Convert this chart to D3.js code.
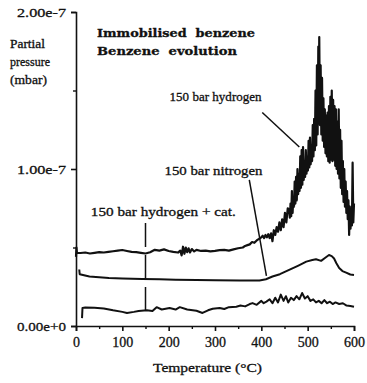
<!DOCTYPE html>
<html>
<head>
<meta charset="utf-8">
<script src="https://cdn.jsdelivr.net/npm/d3@7"></script>
<style>
  body { margin: 0; background: #fff; }
  svg { display: block; }
  text { font-family: "Liberation Serif", "Times New Roman", serif; fill: #111; stroke: #111; stroke-width: 0.3px; }
</style>
</head>
<body>
<div id="chart"></div>
<script>
// values in units of 1e-7 mbar, temperature in °C
const hydrogen = [
  [0,0.44],[1,0.50],[2,0.465],[10,0.465],[20,0.468],[30,0.462],[40,0.466],[50,0.47],[60,0.468],
  [70,0.472],[80,0.476],[90,0.48],[100,0.484],[110,0.478],[120,0.472],[130,0.47],[140,0.466],
  [150,0.462],[160,0.47],[170,0.485],[180,0.48],[190,0.488],[200,0.478],[210,0.472],[220,0.468],
  [225,0.48],[228,0.45],[231,0.505],[234,0.46],[237,0.50],[240,0.47],[243,0.495],[246,0.468],
  [250,0.49],[255,0.475],[260,0.485],[270,0.478],[280,0.48],[290,0.475],[300,0.478],[310,0.483],
  [320,0.485],[330,0.48],[340,0.488],[350,0.495],[360,0.50],[365,0.51],[370,0.515],[375,0.52],
  [380,0.535],[385,0.53],[390,0.545],[395,0.555],[400,0.565],[403,0.575],[406,0.56],[409,0.58],
  [412,0.565],[415,0.585],[418,0.56],[421,0.59],[424,0.54],[427,0.61],[430,0.58],[433,0.63],
  [436,0.60],[439,0.66],[442,0.61],[445,0.68],[448,0.63],[451,0.72],[454,0.66],[457,0.75],
  [460,0.74],[461.5,0.69],[463,0.78],[464.5,0.70],[466,0.86],[467.5,0.72],[469,0.82],[470.5,0.76],
  [472,0.92],[473.5,0.78],[475,0.95],[476.5,0.80],[478,1.00],[479.5,0.84],[481,0.97],[482.5,0.86],
  [484,1.08],[485.5,0.88],[487,1.12],[488.5,0.90],[490,1.14],[491.5,0.93],[493,1.05],[494.5,0.95],
  [496,1.12],[497.5,0.97],[499,1.08],[500.5,0.99],[502,1.18],[503.5,1.01],[505,1.20],[506.5,1.03],
  [508,1.15],[509.5,1.05],[511,1.28],[512.5,1.08],[514,1.32],[515.5,1.12],[517,1.50],[518.5,1.15],
  [520,1.66],[521.5,1.22],[523,1.78],[524,1.30],[525,1.84],[526.5,1.28],[528,1.66],[529.5,1.22],
  [531,1.58],[532.5,1.18],[534,1.45],[535.5,1.14],[537,1.38],[538.5,1.10],[540,1.34],[541.5,1.08],
  [543,1.36],[544.5,1.05],[546,1.40],[547.5,1.04],[549,1.46],[550.5,1.06],[552,1.50],[553.5,1.05],
  [555,1.44],[556.5,1.06],[558,1.40],[559.5,1.02],[561,1.38],[562.5,1.00],[564,1.30],[565.5,0.97],
  [567,1.38],[568.5,0.94],[570,1.25],[571.5,0.88],[573,1.18],[574.5,0.84],[576,1.05],[577.5,0.79],
  [579,1.00],[580.5,0.76],[582,0.92],[583.5,0.72],[585,0.86],[586.5,0.68],[588,0.80],[589.5,0.58],
  [591,0.76],[592.5,0.62],[594,0.72],[595.5,0.64],[597,1.04],[598.5,0.66],[600,0.78]
];

const nitrogen = [
  [7,0.36],[8,0.33],[15,0.325],[29,0.315],[50,0.31],[71,0.305],[100,0.302],[143,0.30],
  [180,0.297],[215,0.294],[260,0.293],[300,0.292],[353,0.29],[396,0.29],[410,0.298],
  [424,0.315],[440,0.33],[460,0.357],[480,0.385],[497,0.41],[510,0.42],[518,0.425],
  [529,0.415],[538,0.435],[546,0.452],[552,0.445],[557,0.43],[562,0.40],[568,0.37],
  [575,0.35],[583,0.34],[592,0.328],[600,0.325]
];

const hydrogenCat = [
  [13,0.05],[14,0.115],[20,0.118],[40,0.116],[60,0.112],[80,0.10],[100,0.09],[110,0.083],
  [125,0.09],[135,0.096],[153,0.10],[165,0.095],[174,0.12],[185,0.105],[202,0.115],[215,0.105],
  [224,0.12],[240,0.105],[260,0.097],[273,0.083],[285,0.10],[295,0.11],[310,0.115],[320,0.108],
  [330,0.12],[346,0.123],[355,0.13],[365,0.125],[375,0.14],[381,0.146],[390,0.135],[400,0.16],
  [405,0.145],[411,0.155],[418,0.17],[424,0.145],[430,0.18],[436,0.15],[442,0.20],[448,0.16],
  [453,0.19],[458,0.15],[464,0.18],[470,0.165],[476,0.19],[482,0.17],[488,0.21],[494,0.175],
  [500,0.19],[506,0.16],[512,0.17],[518,0.15],[524,0.16],[530,0.145],[536,0.165],[542,0.145],
  [548,0.155],[554,0.14],[560,0.15],[568,0.14],[576,0.145],[584,0.13],[592,0.128],[600,0.123]
];

const xTicks = [0, 100, 200, 300, 400, 500, 600];
const xMinor = [50, 150, 250, 350, 450, 550];
const yTicks = [0, 1e-7, 2e-7];
const yTickLabels = ['0.00e+0', '1.00e-7', '2.00e-7'];
const yMinor = [0.5e-7, 1.5e-7];

// annotations: label text, anchor point and pointer line ends (°C, 1e-7 mbar)
const labels = [
  { text: '150 bar hydrogen', t: 202, v: 1.43, len: 92, line: [[402, 1.36], [482, 1.14]] },
  { text: '150 bar nitrogen', t: 191, v: 0.96, len: 98, line: [[374, 0.93], [411, 0.32]] },
  { text: '150 bar hydrogen + cat.', t: 32, v: 0.70, len: 145, line: [[150, 0.656], [150, 0.10]] }
];

const W = 367, H = 383;
const svg = d3.select('#chart').append('svg').attr('width', W).attr('height', H);

const x = d3.scaleLinear().domain([0, 600]).range([76, 354]);
const y = d3.scaleLinear().domain([0, 2e-7]).range([326, 12]);

const line = d3.line()
  .x(d => x(d[0]))
  .y(d => y(d[1] * 1e-7));

// series
[[hydrogen, 2.2], [nitrogen, 2], [hydrogenCat, 2]].forEach(([s, w]) => {
  svg.append('path')
    .datum(s)
    .attr('d', line)
    .attr('fill', 'none')
    .attr('stroke', '#111')
    .attr('stroke-width', w)
    .attr('stroke-linejoin', 'round');
});

// X axis
const xAxis = svg.append('g')
  .attr('transform', `translate(0,${y(0)})`)
  .call(d3.axisBottom(x).tickValues(xTicks).tickSize(5).tickPadding(6).tickFormat(d3.format('d')));
xAxis.select('.domain').attr('stroke', '#111').attr('stroke-width', 1.6);
xAxis.selectAll('line').attr('stroke', '#111').attr('stroke-width', 1.6);
xAxis.selectAll('text')
  .style('font-family', '"Liberation Serif", serif')
  .style('font-size', '14px')
  .style('fill', '#111');

svg.append('g')
  .attr('transform', `translate(0,${y(0)})`)
  .call(d3.axisBottom(x).tickValues(xMinor).tickSize(3).tickFormat(() => ''))
  .call(g => g.select('.domain').remove())
  .selectAll('line').attr('stroke', '#111').attr('stroke-width', 1.4);

// Y axis
const yAxis = svg.append('g')
  .attr('transform', `translate(${x(0)},0)`)
  .call(d3.axisLeft(y).tickValues(yTicks).tickSize(5).tickPadding(5)
    .tickFormat((d, i) => yTickLabels[i]));
yAxis.select('.domain').attr('stroke', '#111').attr('stroke-width', 1.6);
yAxis.selectAll('line').attr('stroke', '#111').attr('stroke-width', 1.6);
yAxis.selectAll('text')
  .style('font-family', '"Liberation Serif", serif')
  .style('font-size', '13px')
  .style('fill', '#111')
  .attr('textLength', 49)
  .attr('lengthAdjust', 'spacingAndGlyphs');

svg.append('g')
  .attr('transform', `translate(${x(0)},0)`)
  .call(d3.axisLeft(y).tickValues(yMinor).tickSize(3).tickFormat(() => ''))
  .call(g => g.select('.domain').remove())
  .selectAll('line').attr('stroke', '#111').attr('stroke-width', 1.4);

// axis titles
svg.append('text')
  .attr('x', 153).attr('y', 372)
  .attr('textLength', 109)
  .attr('lengthAdjust', 'spacingAndGlyphs')
  .style('font-size', '13px')
  .text('Temperature (°C)');

[['Partial', 48, 35], ['pressure', 66, 40], ['(mbar)', 84, 37]].forEach(([t, yy, len]) => {
  svg.append('text')
    .attr('x', 10).attr('y', yy)
    .attr('textLength', len)
    .attr('lengthAdjust', 'spacingAndGlyphs')
    .style('font-size', '12px')
    .text(t);
});

// chart titles
[['Immobilised  benzene', 37, 158], ['Benzene  evolution', 55, 140]].forEach(([t, yy, len]) => {
  svg.append('text')
    .attr('x', 97).attr('y', yy)
    .attr('textLength', len)
    .attr('lengthAdjust', 'spacingAndGlyphs')
    .style('font-family', '"DejaVu Serif", serif')
    .style('font-weight', 'bold')
    .style('font-size', '11px')
    .style('white-space', 'pre')
    .text(t);
});

// annotations
labels.forEach(l => {
  svg.append('text')
    .attr('x', x(l.t)).attr('y', y(l.v * 1e-7))
    .attr('textLength', l.len)
    .attr('lengthAdjust', 'spacingAndGlyphs')
    .style('font-size', '12.5px')
    .text(l.text);
  svg.append('line')
    .attr('x1', x(l.line[0][0])).attr('y1', y(l.line[0][1] * 1e-7))
    .attr('x2', x(l.line[1][0])).attr('y2', y(l.line[1][1] * 1e-7))
    .attr('stroke', '#111')
    .attr('stroke-width', 1.5)
    .attr('stroke-dasharray', l.line[0][0] === l.line[1][0] ? '24,8' : null);
});
</script>
</body>
</html>
